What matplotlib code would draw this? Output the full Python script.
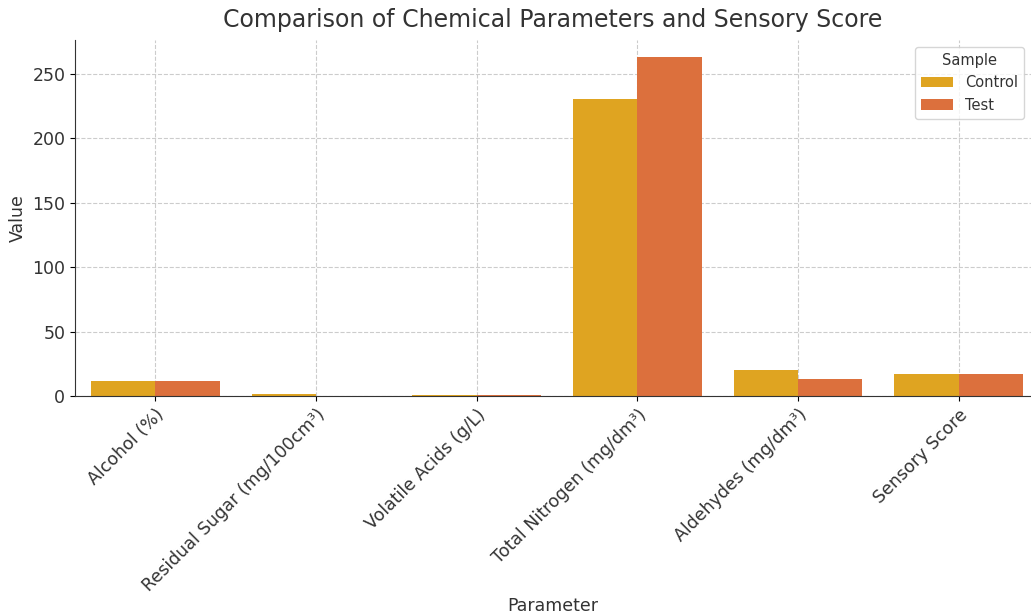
import matplotlib.pyplot as plt
import numpy as np

parametros = ['Alcohol (%)', 'Residual Sugar (mg/100cm³)', 'Volatile Acids (g/L)',
              'Total Nitrogen (mg/dm³)', 'Aldehydes (mg/dm³)', 'Sensory Score']
control = [12.0, 1.2, 0.5, 230.0, 20.0, 17.0]
test = [11.8, 0.3, 0.6, 263.0, 13.0, 17.0]
muestras = ['Control', 'Test']
colores = ['#DFA421', '#DC703D']

fig = plt.figure(figsize=(10.31, 6.15), dpi=100)
ax = fig.add_axes([75 / 1031, 1 - 396 / 615, (1031 - 75) / 1031, (396 - 40) / 615])

x = np.arange(len(parametros))
w = 0.4
ax.bar(x - w / 2, control, w, color=colores[0], label=muestras[0], zorder=2)
ax.bar(x + w / 2, test, w, color=colores[1], label=muestras[1], zorder=2)

ax.set_xlim(-0.5, 5.45)
ax.set_ylim(0, 276)
ax.set_xticks(x)
ax.set_xticklabels(parametros, rotation=45, ha='right', rotation_mode='anchor', fontsize=12.5, color='#333333')
ax.tick_params(axis='y', labelsize=12.5, labelcolor='#333333')
ax.grid(True, linestyle='--', color='#cccccc', linewidth=0.8, zorder=0)
ax.set_axisbelow(True)
for s in ['top', 'right']:
    ax.spines[s].set_visible(False)
ax.spines['left'].set_color('#333333')
ax.spines['bottom'].set_color('#333333')

ax.set_title('Comparison of Chemical Parameters and Sensory Score', fontsize=17, color='#333333', pad=9)
ax.set_xlabel('Parameter', fontsize=12.5, color='#333333', labelpad=1)
ax.set_ylabel('Value', fontsize=12.5, color='#333333')
leg = ax.legend(title='Sample', loc='upper right', fontsize=10.5, title_fontsize=10.5,
                bbox_to_anchor=(1.0, 1.0), handlelength=2.2)
leg.get_title().set_color('#333333')
for t in leg.get_texts():
    t.set_color('#333333')

fig.savefig('out.png', dpi=100)
